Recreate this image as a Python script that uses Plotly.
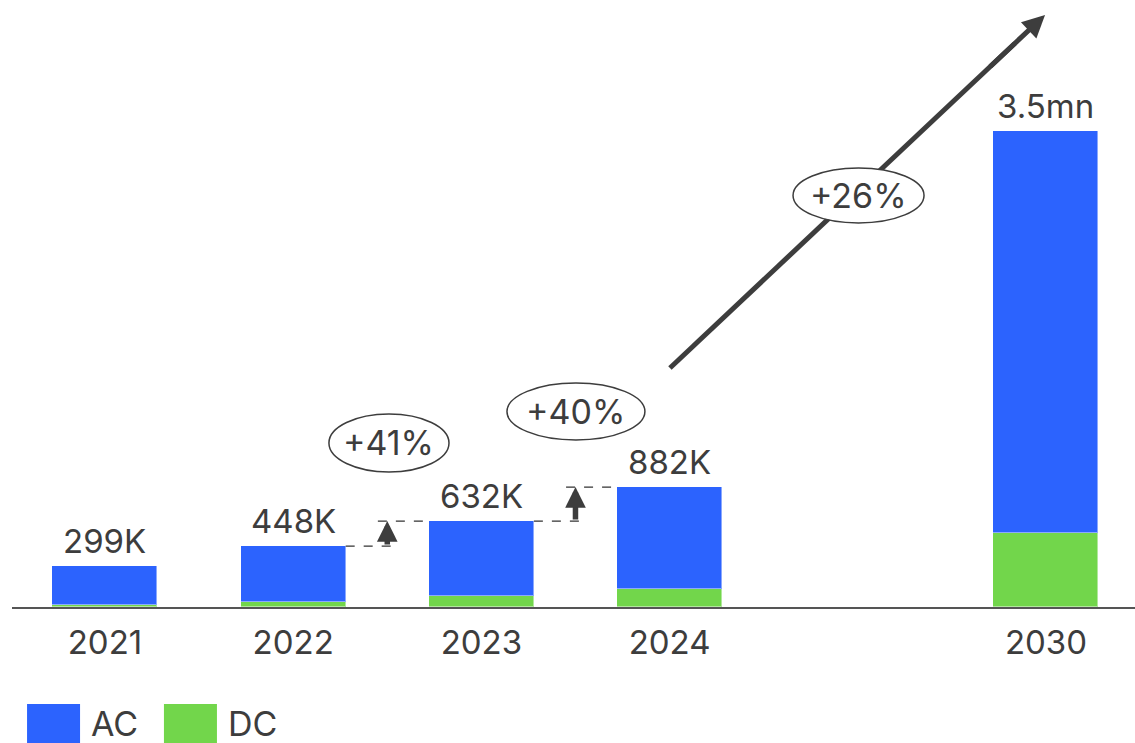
import plotly.graph_objects as go

# Installed base (thousands of units), split AC / DC
years = ["2021", "2022", "2023", "2024", "2030"]
slots = [0, 1, 2, 3, 5]          # 2030 sits one empty slot after 2024
ac = [281, 410, 552, 752, 2955]
dc = [18, 38, 80, 130, 545]
total_labels = ["299K", "448K", "632K", "882K", "3.5mn"]
growth_labels = ["+41%", "+40%", "+26%"]

totals = [a + d for a, d in zip(ac, dc)]

BLUE = "#2C63FE"
GREEN = "#72D64B"
INK = "#3d3d3d"
FONT = "Inter"
BAR_W = 0.558
half = BAR_W / 2

fig = go.Figure()
fig.add_trace(go.Bar(x=slots, y=dc, name="DC", marker=dict(color=GREEN, line=dict(color="rgba(255,255,255,0.45)", width=1)), width=BAR_W))
fig.add_trace(go.Bar(x=slots, y=ac, name="AC", marker=dict(color=BLUE, line=dict(color="rgba(255,255,255,0.45)", width=1)), width=BAR_W))

annotations = []
shapes = []

# total labels on top of each bar
for s, t, lab in zip(slots, totals, total_labels):
    annotations.append(dict(x=s, y=t, text=lab, showarrow=False, yanchor="bottom", yshift=3,
                            font=dict(size=33, color=INK, family=FONT)))

# year-on-year step markers: dashed guides + small up arrow
for i in (1, 2):
    lo, hi = totals[i], totals[i + 1]
    xa = slots[i] + 0.5
    shapes.append(dict(type="line", xref="x", yref="y", x0=slots[i] + half, x1=xa + 0.05, y0=lo, y1=lo,
                       line=dict(color="#333333", width=1.3, dash="dash")))
    shapes.append(dict(type="line", xref="x", yref="y", x0=xa - 0.05, x1=slots[i + 1] - half, y0=hi, y1=hi,
                       line=dict(color="#333333", width=1.3, dash="dash")))
    annotations.append(dict(x=xa, y=hi, ax=xa, ay=lo, xref="x", yref="y", axref="x", ayref="y",
                            text="", showarrow=True, arrowhead=2, arrowsize=0.75, arrowwidth=5.5,
                            arrowcolor=INK, standoff=0, startstandoff=0))

# growth callouts (ellipse + text)
callouts = [
    (growth_labels[0], 1.19, 1.828, 993, 1419),
    (growth_labels[1], 2.136, 2.869, 1228, 1647),
    (growth_labels[2], 3.656, 4.352, 2824, 3228),
]

# long trend arrow 2024 -> 2030
x_start, y_start = 3.002, 1757
x_end, y_end = 4.995, 4353
def along(t):
    return x_start + (x_end - x_start) * t, y_start + (y_end - y_start) * t

lx, ly = along(0.92)
shapes.append(dict(type="line", xref="x", yref="y", x0=x_start, y0=y_start, x1=lx, y1=ly,
                   line=dict(color=INK, width=5), layer="above"))
ax_, ay_ = along(0.85)
annotations.append(dict(x=x_end, y=y_end, ax=ax_, ay=ay_, xref="x", yref="y", axref="x", ayref="y",
                        text="", showarrow=True, arrowhead=2, arrowsize=0.9, arrowwidth=5,
                        arrowcolor=INK, standoff=0, startstandoff=0))

for lab, x0, x1, y0, y1 in callouts:
    shapes.append(dict(type="circle", xref="x", yref="y", x0=x0, x1=x1, y0=y0, y1=y1,
                       line=dict(color=INK, width=1.5), fillcolor="white", layer="above"))
    annotations.append(dict(x=(x0 + x1) / 2, y=(y0 + y1) / 2, text=lab, showarrow=False,
                            font=dict(size=34, color=INK, family=FONT)))

# legend keys
legend_items = [("AC", BLUE, 0.0134, 0.0606), ("DC", GREEN, 0.1353, 0.1825)]
for name, col, x0, x1 in legend_items:
    shapes.append(dict(type="rect", xref="paper", yref="paper", x0=x0, x1=x1, y0=-0.224, y1=-0.1598,
                       fillcolor=col, line=dict(width=0)))
    annotations.append(dict(x=x1 + 0.008, y=-0.192, xref="paper", yref="paper", text=name,
                            showarrow=False, xanchor="left", yanchor="middle",
                            font=dict(size=34, color=INK, family=FONT)))

fig.update_layout(
    width=1135, height=743,
    margin=dict(l=12, r=0, t=0, b=136),
    barmode="stack",
    showlegend=False,
    plot_bgcolor="white", paper_bgcolor="white",
    font=dict(family=FONT, color=INK),
    shapes=shapes, annotations=annotations,
    bargap=0,
)
fig.update_xaxes(range=[-0.494, 5.473], tickmode="array", tickvals=slots, ticktext=years,
                 showline=True, linecolor="#555555", linewidth=2, showgrid=False, zeroline=False,
                 ticks="", ticklabelstandoff=5, tickfont=dict(size=33, color=INK, family=FONT))
fig.update_yaxes(range=[0, 4463], visible=False, showgrid=False)

fig.write_html("out.html")
